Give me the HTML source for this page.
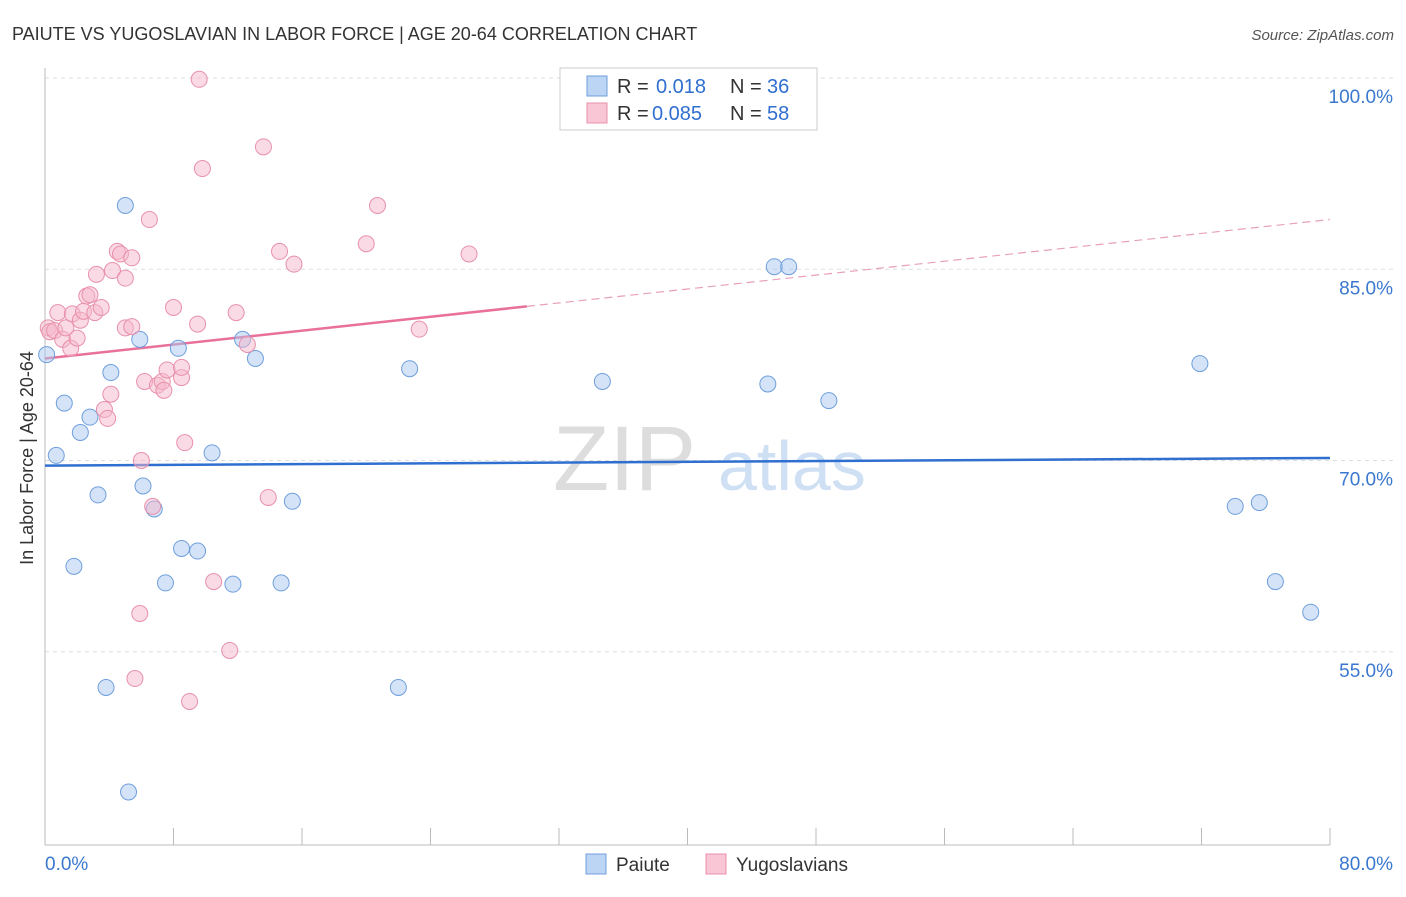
<!DOCTYPE html>
<html><head><meta charset="utf-8"><style>
body{margin:0;background:#fff;font-family:"Liberation Sans",sans-serif;}
svg text{font-family:"Liberation Sans",sans-serif;}
</style></head><body>
<svg id="chart" width="1406" height="892">
<text x="12" y="40" font-size="18" fill="#333">PAIUTE VS YUGOSLAVIAN IN LABOR FORCE | AGE 20-64 CORRELATION CHART</text>
<text x="1394" y="40" font-size="15" fill="#555" font-style="italic" text-anchor="end">Source: ZipAtlas.com</text>
<text x="33" y="458" font-size="18" fill="#333" text-anchor="middle" transform="rotate(-90 33 458)">In Labor Force | Age 20-64</text>
<g id="grid"></g>
<g><text x="553" y="490" font-size="92" fill="#ddd" font-family="Liberation Serif,serif">ZIP</text><text x="718" y="490" font-size="70" fill="#cfe0f4">atlas</text></g>
<g id="lines"></g>
<g id="pts"></g>
<g>
<rect x="560" y="68" width="257" height="62" fill="#fff" stroke="#ccc"/>
<rect x="587" y="76" width="20" height="20" fill="#bcd5f5" stroke="#6f9fdc"/>
<text x="617" y="93" font-size="20" fill="#333">R =</text><text x="656" y="93" font-size="20" fill="#2f6fcf">0.018</text>
<text x="730" y="93" font-size="20" fill="#333">N =</text><text x="767" y="93" font-size="20" fill="#2f6fcf">36</text>
<rect x="587" y="103" width="20" height="20" fill="#f9c6d6" stroke="#e890ab"/>
<text x="617" y="120" font-size="20" fill="#333">R =</text><text x="652" y="120" font-size="20" fill="#2f6fcf">0.085</text>
<text x="730" y="120" font-size="20" fill="#333">N =</text><text x="767" y="120" font-size="20" fill="#2f6fcf">58</text>
</g>
<g>
<rect x="586" y="854" width="20" height="20" fill="#bcd5f5" stroke="#6f9fdc"/>
<text x="616" y="871" font-size="19" fill="#333">Paiute</text>
<rect x="706" y="854" width="20" height="20" fill="#f9c6d6" stroke="#e890ab"/>
<text x="736" y="871" font-size="19" fill="#333">Yugoslavians</text>
</g>
</svg>
<script>
const yTicks=[100,85,70,55];
const xTickLabels=["0.0%","80.0%"];
const paiuteX=[0.1,0.7,1.2,1.8,2.2,2.8,3.3,3.8,4.1,5.0,5.2,5.9,6.1,6.8,7.5,8.3,8.5,9.5,10.4,11.7,12.3,13.1,14.7,15.4,22.0,22.7,34.7,45.0,45.4,46.3,48.8,71.9,74.1,75.6,76.6,78.8];
const paiuteY=[78.3,70.4,74.5,61.7,72.2,73.4,67.3,52.2,76.9,90.0,44.0,79.5,68.0,66.2,60.4,78.8,63.1,62.9,70.6,60.3,79.5,78.0,60.4,66.8,52.2,77.2,76.2,76.0,85.2,85.2,74.7,77.6,66.4,66.7,60.5,58.1];
const yugoX=[0.2,0.3,0.6,0.8,1.1,1.3,1.6,1.7,2.0,2.2,2.4,2.6,2.8,3.1,3.2,3.5,3.7,3.9,4.1,4.2,4.5,4.7,5.0,5.0,5.4,5.4,5.6,5.9,6.0,6.2,6.5,6.7,7.0,7.3,7.4,7.6,8.0,8.5,8.5,8.7,9.0,9.5,9.6,9.8,10.5,11.5,11.9,12.6,13.6,13.9,14.6,15.5,20.0,20.7,23.3,26.4];
const yugoY=[80.4,80.1,80.2,81.6,79.5,80.4,78.8,81.5,79.6,81.0,81.7,82.9,83.0,81.6,84.6,82.0,74.0,73.3,75.2,84.9,86.4,86.2,80.4,84.3,85.9,80.5,52.9,58.0,70.0,76.2,88.9,66.4,75.9,76.2,75.5,77.1,82.0,76.5,77.3,71.4,51.1,80.7,99.9,92.9,60.5,55.1,81.6,79.1,94.6,67.1,86.4,85.4,87.0,90.0,80.3,86.2];
const paiuteTrend=[69.6,70.2];
const yugoTrend=[78.0,88.9];
const yugoSolidEnd=30;
const NS='http://www.w3.org/2000/svg';
const sx=v=>45+v/80*1285;
const sy=v=>78+(100-v)*12.75;
function mk(t,a,p){const e=document.createElementNS(NS,t);for(const k in a)e.setAttribute(k,a[k]);p.appendChild(e);return e;}
const grid=document.getElementById('grid');
yTicks.forEach(t=>{
 const l=mk('line',{x1:45,x2:1394,y1:sy(t),y2:sy(t),stroke:'#ddd','stroke-dasharray':'4,4'},grid);
 
 
 const tx=mk('text',{x:1393,y:sy(t)+25,'font-size':19,fill:'#3a78d0','text-anchor':'end'},grid);
 tx.textContent=t.toFixed(1)+'%';
 
 
});
mk('line',{x1:45,x2:45,y1:68,y2:845,stroke:'#bbb'},grid);
mk('line',{x1:45,x2:1330,y1:845,y2:845,stroke:'#bbb'},grid);
for(let i=0;i<=10;i++){const x=sx(i*8);const t=mk('line',{x1:x,x2:x,y1:828,y2:845,stroke:'#bbb'},grid);
 
 }
const xl0=mk('text',{x:45,y:870,'font-size':19,fill:'#3a78d0'},grid);xl0.textContent=xTickLabels[0];


const xl1=mk('text',{x:1393,y:870,'font-size':19,fill:'#3a78d0','text-anchor':'end'},grid);xl1.textContent=xTickLabels[1];


const pts=document.getElementById('pts');
paiuteX.forEach((x,i)=>{const c=mk('circle',{cx:sx(x),cy:sy(paiuteY[i]),r:8,fill:'rgba(170,200,240,0.5)',stroke:'#6f9fdc','stroke-width':1},pts);
 
 });
yugoX.forEach((x,i)=>{const c=mk('circle',{cx:sx(x),cy:sy(yugoY[i]),r:8,fill:'rgba(246,184,203,0.5)',stroke:'#e890ab','stroke-width':1},pts);
 
 });
const lines=document.getElementById('lines');
const bl=mk('line',{x1:sx(0),y1:sy(paiuteTrend[0]),x2:sx(80),y2:sy(paiuteTrend[1]),stroke:'#2f6fcf','stroke-width':2.5},lines);


const ye=yugoTrend[0]+(yugoTrend[1]-yugoTrend[0])*yugoSolidEnd/80;
const pl=mk('line',{x1:sx(0),y1:sy(yugoTrend[0]),x2:sx(yugoSolidEnd),y2:sy(ye),stroke:'#e8709a','stroke-width':2.5},lines);


const pd=mk('line',{x1:sx(yugoSolidEnd),y1:sy(ye),x2:sx(80),y2:sy(yugoTrend[1]),stroke:'#e8a0b8','stroke-width':1.2,'stroke-dasharray':'8,5'},lines);


</script>
</body></html>
